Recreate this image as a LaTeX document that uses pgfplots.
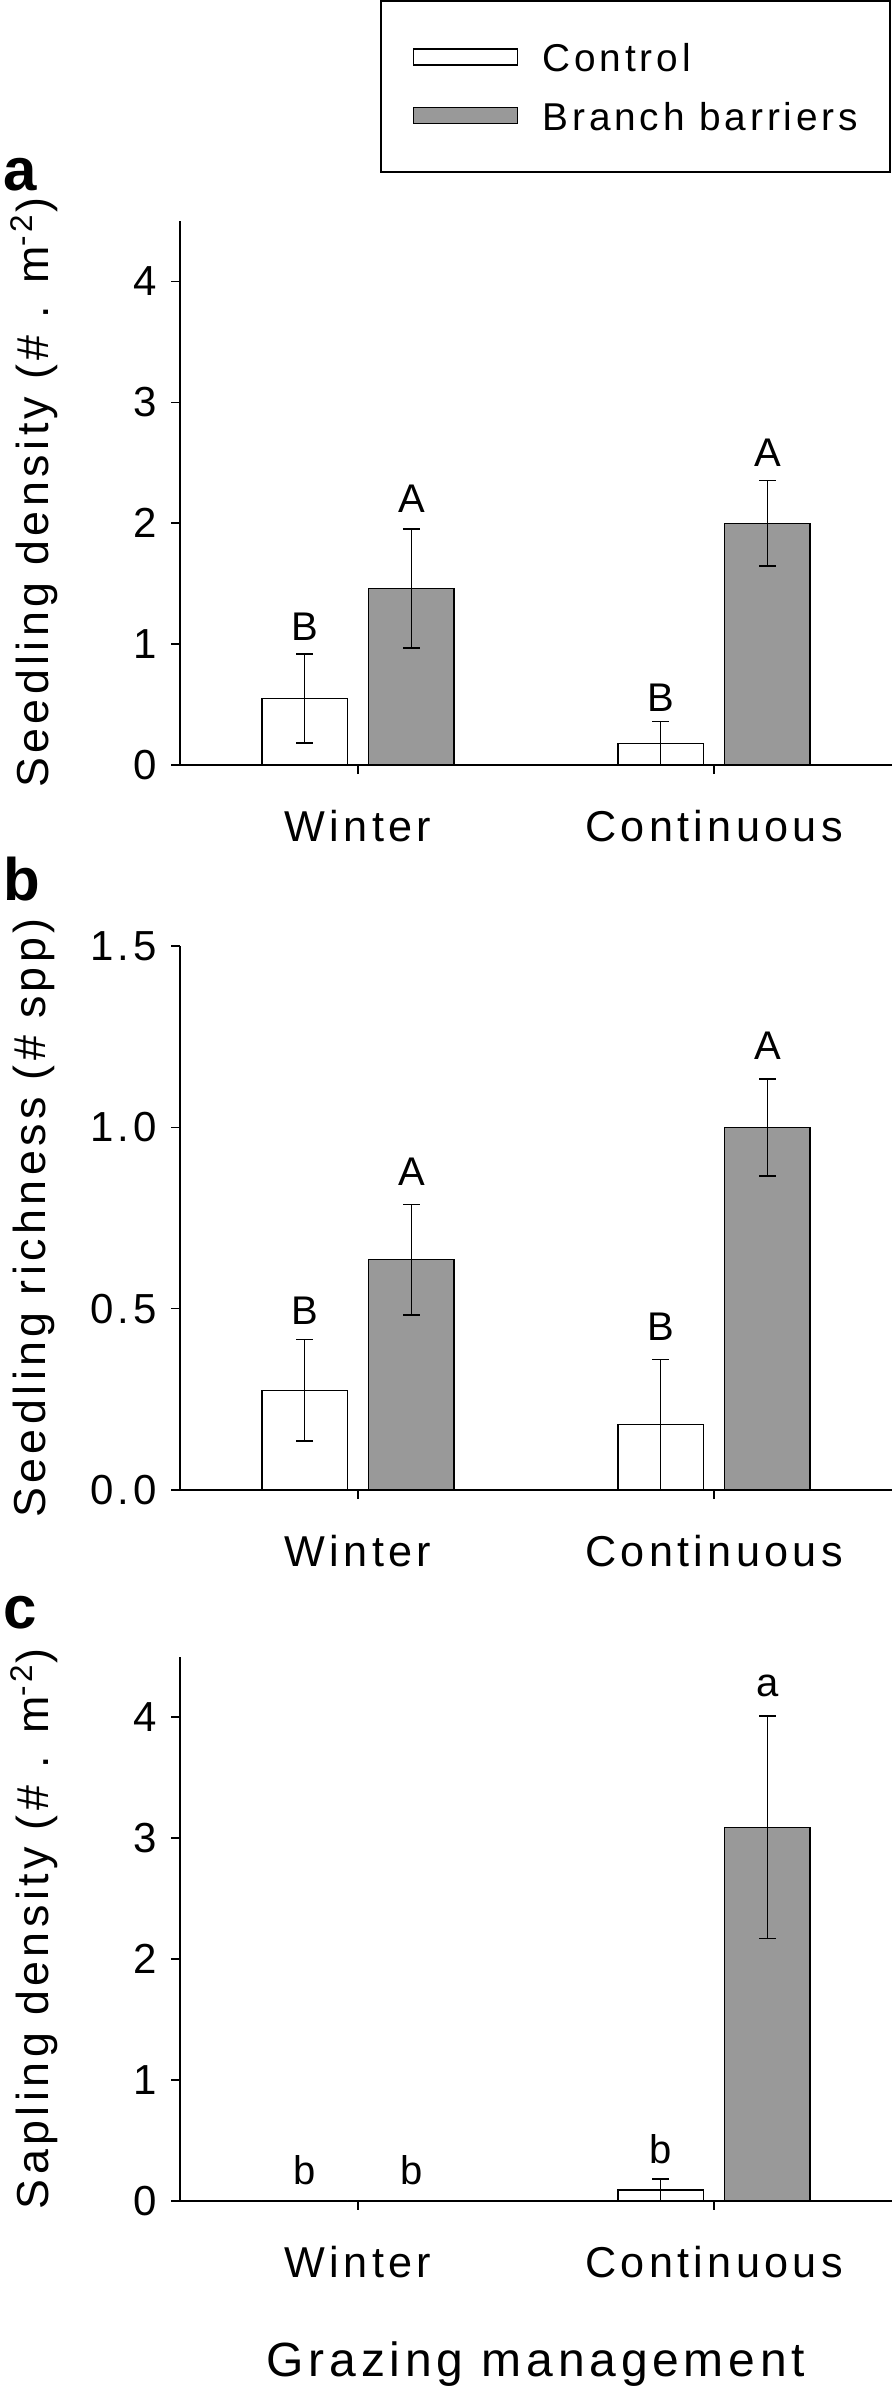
\documentclass[border=0pt]{standalone}
\usepackage{pgfplots}
\usepackage{pgfplotstable}
\pgfplotsset{compat=1.18}
\usepackage{fontspec}
\setmainfont{Liberation Sans}[LetterSpace=10]
\definecolor{barfill}{gray}{0.6}

% panel a: seedling density
\pgfplotstableread{
x y e
-0.15 0.55 0.37
0.85 0.18 0.18
}\aCtrl
\pgfplotstableread{
x y e
0.15 1.46 0.49
1.15 2.00 0.355
}\aBran
% panel b: seedling richness
\pgfplotstableread{
x y e
-0.15 0.275 0.14
0.85 0.18 0.18
}\bCtrl
\pgfplotstableread{
x y e
0.15 0.635 0.152
1.15 1.00 0.134
}\bBran
% panel c: sapling density
\pgfplotstableread{
x y e
-0.15 0 0
0.85 0.09 0.09
}\cCtrl
\pgfplotstableread{
x y e
0.15 0 0
1.15 3.09 0.92
}\cBran

\tikzset{lett/.style={font=\fontsize{10}{11}\selectfont}}

\pgfplotsset{
 panel/.style={
  scale only axis, width=178pt, height=136pt,
  xmin=-0.5, xmax=1.5, ymin=0,
  axis x line*=bottom, axis y line*=left,
  axis line style={line width=0.5pt, black},
  tick align=outside, major tick length=2.25pt,
  tick style={line width=0.4pt, black},
  xtick={0,1}, xticklabels={Winter,Continuous},
  clip=false,
  /pgf/number format/assume math mode=true,
  yticklabel style={font=\fontsize{10.5}{12}\selectfont},
  xticklabel style={font=\fontsize{10.8}{12}\selectfont, yshift=-5.5pt},
  ylabel style={font=\fontsize{11.2}{13}\selectfont, at={(axis description cs:-0.205,0.5)}, anchor=center},
 },
 ctrlbar/.style={ybar, bar width=0.24, bar shift=0pt, fill=white, draw=black, line width=0.35pt,
  legend image code/.code={\draw[fill=white, draw=black, line width=0.4pt] (0pt,-2pt) rectangle (26pt,2pt);},
  error bars/.cd, y dir=both, y explicit, error mark=|,
  error bar style={line width=0.4pt, black},
  error mark options={mark size=2.1pt, line width=0.4pt, black}},
 branbar/.style={ybar, bar width=0.24, bar shift=0pt, fill=barfill, draw=black, line width=0.35pt,
  legend image code/.code={\draw[fill=barfill, draw=black, line width=0.4pt] (0pt,-2pt) rectangle (26pt,2pt);},
  error bars/.cd, y dir=both, y explicit, error mark=|,
  error bar style={line width=0.4pt, black},
  error mark options={mark size=2.1pt, line width=0.4pt, black}},
}

\begin{document}
\begin{tikzpicture}
\path[use as bounding box] (0pt,0pt) rectangle (223.75pt,-597.75pt);

% ---------- panel a ----------
\begin{axis}[panel, at={(45pt,-191.25pt)}, anchor=south west,
  ymax=4.5, ytick={0,1,2,3,4},
  ylabel={Seedling density (\# . m\textsuperscript{-2})},
  legend style={at={(0.281,1.406)}, anchor=north west, draw=black, line width=0.4pt,
    inner xsep=8pt, inner ysep=10.4pt, row sep=7.3pt, column sep=6pt,
    font=\fontsize{9.7}{12}\selectfont,
    nodes={inner sep=0pt, anchor=west, text height=7.3pt, text depth=0pt}},
  legend cell align=left]
\addplot[ctrlbar] table[x=x,y=y,y error=e] {\aCtrl};
\addlegendentry{Control}
\addplot[branbar] table[x=x,y=y,y error=e] {\aBran};
\addlegendentry{Branch barriers}
\node[lett] at (axis cs:-0.15,1.145) {B};
\node[lett] at (axis cs:0.15,2.2) {A};
\node[lett] at (axis cs:0.85,0.56) {B};
\node[lett] at (axis cs:1.15,2.58) {A};
\end{axis}

% ---------- panel b ----------
\begin{axis}[panel, at={(45pt,-372.5pt)}, anchor=south west,
  ymax=1.5, ytick={0,0.5,1,1.5},
  yticklabel style={/pgf/number format/.cd, fixed, fixed zerofill, precision=1},
  ylabel={Seedling richness (\# spp)}]
\addplot[ctrlbar] table[x=x,y=y,y error=e] {\bCtrl};
\addplot[branbar] table[x=x,y=y,y error=e] {\bBran};
\node[lett] at (axis cs:-0.15,0.494) {B};
\node[lett] at (axis cs:0.15,0.877) {A};
\node[lett] at (axis cs:0.85,0.449) {B};
\node[lett] at (axis cs:1.15,1.226) {A};
\end{axis}

% ---------- panel c ----------
\begin{axis}[panel, at={(45pt,-550.2pt)}, anchor=south west,
  ymax=4.5, ytick={0,1,2,3,4},
  ylabel={Sapling density (\# . m\textsuperscript{-2})},
  xlabel={Grazing management},
  xlabel style={font=\fontsize{12}{14}\selectfont, at={(axis description cs:0.5,-0.301)}, anchor=center}]
\addplot[ctrlbar] table[x=x,y=y,y error=e] {\cCtrl};
\addplot[branbar] table[x=x,y=y,y error=e] {\cBran};
\node[lett] at (axis cs:-0.15,0.25) {b};
\node[lett] at (axis cs:0.15,0.25) {b};
\node[lett] at (axis cs:0.85,0.43) {b};
\node[lett] at (axis cs:1.15,4.26) {a};
\end{axis}

% panel letters
\node[anchor=base west, inner sep=0pt, font=\bfseries\fontsize{15}{17}\selectfont] at (0.8pt,-47.5pt) {a};
\node[anchor=base west, inner sep=0pt, font=\bfseries\fontsize{15}{17}\selectfont] at (0.8pt,-225pt) {b};
\node[anchor=base west, inner sep=0pt, font=\bfseries\fontsize{15}{17}\selectfont] at (0.8pt,-407pt) {c};
\end{tikzpicture}
\end{document}
